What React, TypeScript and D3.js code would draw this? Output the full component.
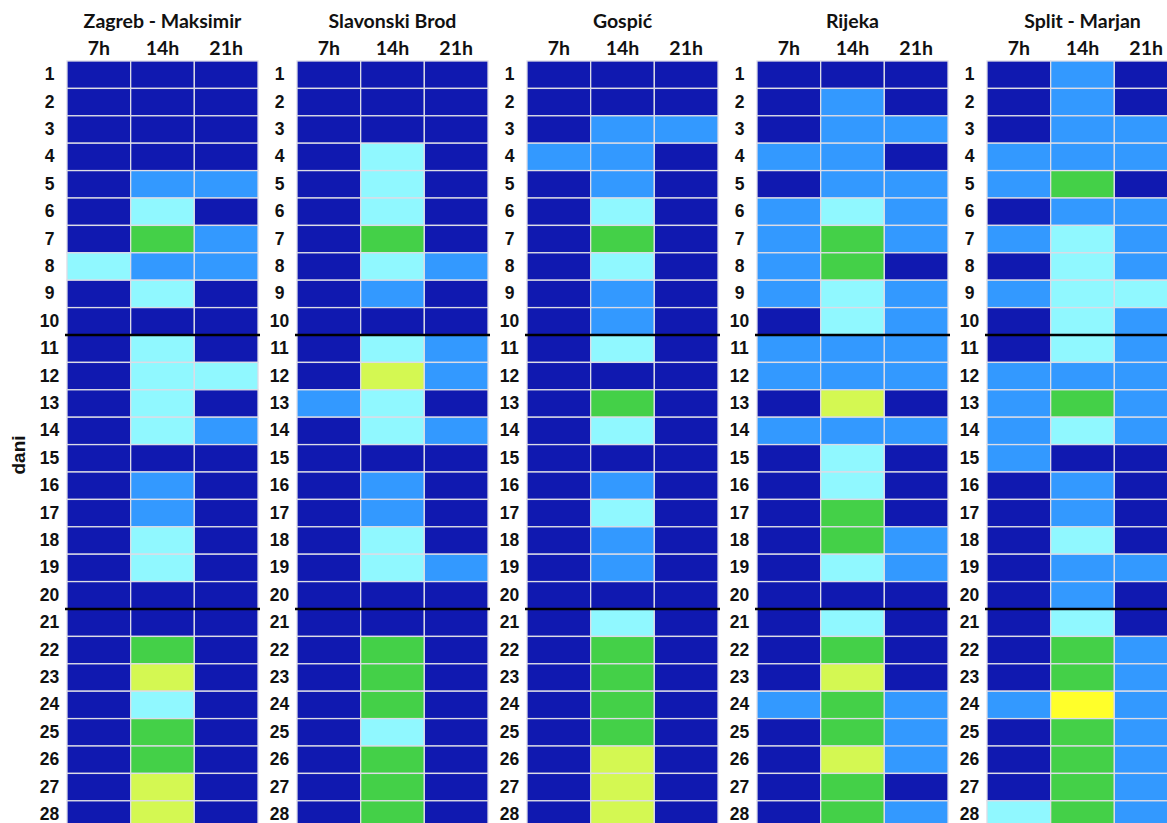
import React from "react";
import * as d3 from "d3";

// categories
const stations = ["Zagreb - Maksimir", "Slavonski Brod", "Gospić", "Rijeka", "Split - Marjan"];
const hours = ["7h", "14h", "21h"];
const days = [1, 2, 3, 4, 5, 6, 7, 8, 9, 10, 11, 12, 13, 14, 15, 16, 17, 18, 19, 20, 21, 22, 23, 24, 25, 26, 27, 28];
// class levels (0 = coolest ... 5 = warmest)
const levelColors = ["#1019b0", "#3399ff", "#90f8ff", "#44d048", "#d4f852", "#ffff2a"];

const zagreb = [
  [0,0,0],[0,0,0],[0,0,0],[0,0,0],[0,1,1],[0,2,0],[0,3,1],[2,1,1],[0,2,0],[0,0,0],
  [0,2,0],[0,2,2],[0,2,0],[0,2,1],[0,0,0],[0,1,0],[0,1,0],[0,2,0],[0,2,0],[0,0,0],
  [0,0,0],[0,3,0],[0,4,0],[0,2,0],[0,3,0],[0,3,0],[0,4,0],[0,4,0],
];
const slavonskiBrod = [
  [0,0,0],[0,0,0],[0,0,0],[0,2,0],[0,2,0],[0,2,0],[0,3,0],[0,2,1],[0,1,0],[0,0,0],
  [0,2,1],[0,4,1],[1,2,0],[0,2,1],[0,0,0],[0,1,0],[0,1,0],[0,2,0],[0,2,1],[0,0,0],
  [0,0,0],[0,3,0],[0,3,0],[0,3,0],[0,2,0],[0,3,0],[0,3,0],[0,3,0],
];
const gospic = [
  [0,0,0],[0,0,0],[0,1,1],[1,1,0],[0,1,0],[0,2,0],[0,3,0],[0,2,0],[0,1,0],[0,1,0],
  [0,2,0],[0,0,0],[0,3,0],[0,2,0],[0,0,0],[0,1,0],[0,2,0],[0,1,0],[0,1,0],[0,0,0],
  [0,2,0],[0,3,0],[0,3,0],[0,3,0],[0,3,0],[0,4,0],[0,4,0],[0,4,0],
];
const rijeka = [
  [0,0,0],[0,1,0],[0,1,1],[1,1,0],[0,1,1],[1,2,1],[1,3,1],[1,3,0],[1,2,1],[0,2,1],
  [1,1,1],[1,1,1],[0,4,0],[1,1,1],[0,2,0],[0,2,0],[0,3,0],[0,3,1],[0,2,1],[0,0,0],
  [0,2,0],[0,3,0],[0,4,0],[1,3,1],[0,3,1],[0,4,1],[0,3,0],[0,3,1],
];
const split = [
  [0,1,0],[0,1,0],[0,1,1],[1,1,1],[1,3,0],[0,1,1],[1,2,1],[0,2,1],[1,2,2],[0,2,1],
  [0,2,1],[1,1,1],[1,3,1],[1,2,1],[1,0,0],[0,1,0],[0,1,0],[0,2,0],[0,1,1],[0,1,0],
  [0,2,0],[0,3,1],[0,3,1],[1,5,1],[0,3,1],[0,3,1],[0,3,1],[2,3,1],
];
const stationValues = [zagreb, slavonskiBrod, gospic, rijeka, split];
const separatorsAfter = [10, 20];

export default function App() {
  const width = 1167;
  const height = 823;
  const gridTop = 61;
  const rowH = 27.4;
  const panelW = 191;

  const panelX = d3.scaleLinear().domain([0, stations.length - 1]).range([67, 987]);
  const colX = d3.scaleBand<string>().domain(hours).range([0, panelW]);
  const rowY = d3.scaleBand<number>().domain(days).range([gridTop, gridTop + days.length * rowH]);
  const color = d3.scaleOrdinal<number, string>().domain(d3.range(levelColors.length)).range(levelColors);

  const labelFont = "'Liberation Sans', Arial, sans-serif";
  const headFont = "Lato, 'Open Sans', sans-serif";

  return (
    <svg
      width={width}
      height={height}
      style={{ position: "absolute", left: 0, top: 0, background: "#fff" }}
    >
      <text
        transform={`translate(25,455) rotate(-90)`}
        textAnchor="middle"
        fontFamily={labelFont}
        fontWeight={700}
        fontSize={19}
        fill="#111"
      >
        dani
      </text>
      {stations.map((name, si) => {
        const x0 = panelX(si);
        const vals = stationValues[si];
        return (
          <g key={name} transform={`translate(${x0},0)`}>
            <text
              x={panelW / 2}
              y={28}
              textAnchor="middle"
              fontFamily={headFont}
              fontWeight={700}
              fontSize={19.5}
              fill="#111"
            >
              {name}
            </text>
            {hours.map((h) => (
              <text
                key={h}
                x={(colX(h) as number) + colX.bandwidth() / 2}
                y={55}
                textAnchor="middle"
                fontFamily={headFont}
                fontWeight={700}
                fontSize={19.5}
                fill="#111"
              >
                {h}
              </text>
            ))}
            {days.map((d, di) => (
              <g key={d}>
                <text
                  x={-17.5}
                  y={(rowY(d) as number) + rowY.bandwidth() / 2 + 5.5}
                  textAnchor="middle"
                  fontFamily={labelFont}
                  fontWeight={700}
                  fontSize={17.5}
                  fill="#111"
                >
                  {d}
                </text>
                {hours.map((h, hi) => (
                  <rect
                    key={h}
                    x={colX(h)}
                    y={rowY(d)}
                    width={colX.bandwidth()}
                    height={rowY.bandwidth()}
                    fill={color(vals[di][hi])}
                    stroke="#dcdce6"
                    strokeWidth={1.3}
                  />
                ))}
              </g>
            ))}
            {separatorsAfter.map((s) => {
              const y = (rowY(days[s - 1]) as number) + rowY.bandwidth();
              return (
                <line key={s} x1={-2} x2={panelW + 2} y1={y} y2={y} stroke="#000" strokeWidth={2.6} />
              );
            })}
          </g>
        );
      })}
    </svg>
  );
}
